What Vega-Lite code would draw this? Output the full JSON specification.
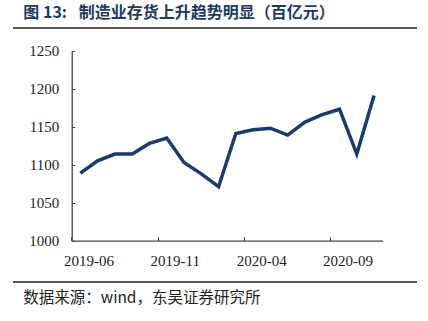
{
  "$schema": "https://vega.github.io/schema/vega-lite/v6.json",
  "autosize": {"type": "none"},
  "width": 404,
  "height": 254,
  "padding": {"left": 13, "top": 28, "right": 11, "bottom": 39},
  "background": "white",
  "config": {"view": {"stroke": null}},
  "title": {"text": "图 13:\u2002\u00a0制造业存货上升趋势明显（百亿元）", "anchor": "start", "dx": 11, "offset": 6, "fontSize": 16, "font": "Noto Sans CJK SC", "fontWeight": "bold", "color": "#1f3a5f"},
  "layer": [
    {
      "data": {"values": [{"edge": 0}, {"edge": 1}]},
      "mark": {"type": "rule", "color": "#222222", "strokeWidth": 1.3},
      "encoding": {"y": {"field": "edge", "type": "quantitative", "scale": {"domain": [0, 1]}, "axis": null}}
    },
    {
      "data": {"values": [
        {"month": "2019-06", "value": 1089},
        {"month": "2019-07", "value": 1105},
        {"month": "2019-08", "value": 1114},
        {"month": "2019-09", "value": 1114},
        {"month": "2019-10", "value": 1128},
        {"month": "2019-11", "value": 1135},
        {"month": "2019-12", "value": 1103},
        {"month": "2020-01", "value": 1088},
        {"month": "2020-02", "value": 1071},
        {"month": "2020-03", "value": 1141},
        {"month": "2020-04", "value": 1146},
        {"month": "2020-05", "value": 1148},
        {"month": "2020-06", "value": 1139},
        {"month": "2020-07", "value": 1156},
        {"month": "2020-08", "value": 1166},
        {"month": "2020-09", "value": 1173},
        {"month": "2020-10", "value": 1114},
        {"month": "2020-11", "value": 1191}
      ]},
      "mark": {"type": "line", "color": "#1a3c68", "strokeWidth": 3.5},
      "encoding": {
        "x": {
          "field": "month", "type": "ordinal", "sort": null,
          "scale": {"type": "band", "range": [58.7, 369.7], "paddingInner": 0, "paddingOuter": 0},
          "axis": {
            "values": ["2019-06", "2019-11", "2020-04", "2020-09"],
            "bandPosition": 0, "labelOffset": 8.6, "offset": -41.3,
            "labelAngle": 0, "labelFont": "Liberation Serif, serif", "labelFontSize": 15, "labelColor": "#222222", "labelPadding": 17,
            "domainColor": "#444444", "domainWidth": 1.3, "tickColor": "#444444", "tickSize": -4, "grid": false,
            "title": "数据来源：wind，东吴证券研究所",
            "titleX": 9.7, "titleY": 56.3, "titleAlign": "left", "titleBaseline": "middle", "titleAnchor": null,
            "titleFont": "Noto Sans CJK SC", "titleFontSize": 15.5, "titleFontWeight": "normal", "titleColor": "#222222"
          }
        },
        "y": {
          "field": "value", "type": "quantitative",
          "scale": {"domain": [1000, 1250], "range": [212.7, 22.7], "nice": false, "zero": false},
          "axis": {
            "values": [1000, 1050, 1100, 1150, 1200, 1250], "format": "d", "offset": -58.7,
            "labelFont": "Liberation Serif, serif", "labelFontSize": 15, "labelColor": "#222222", "labelPadding": 16,
            "domainColor": "#444444", "domainWidth": 1.3, "tickColor": "#444444", "tickSize": -3, "grid": false,
            "title": null
          }
        }
      }
    }
  ],
  "resolve": {"scale": {"y": "independent"}}
}
